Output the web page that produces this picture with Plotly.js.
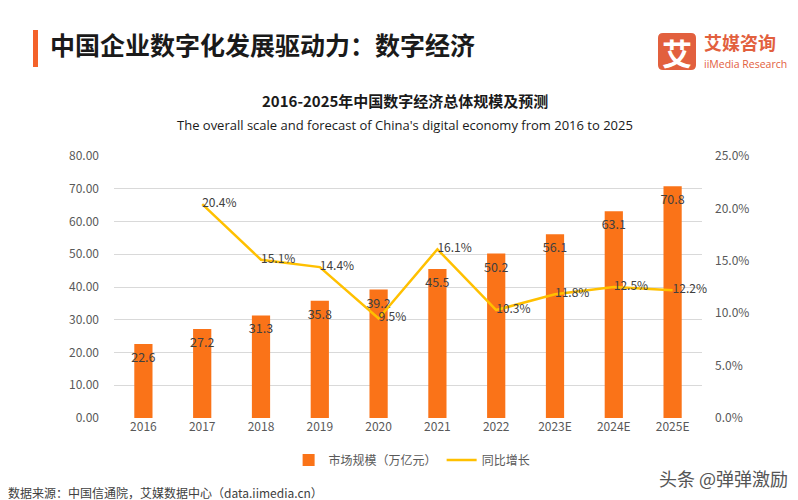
<!DOCTYPE html>
<html>
<head>
<meta charset="utf-8">
<script src="https://cdn.plot.ly/plotly-3.0.1.min.js"></script>
<style>html,body{margin:0;padding:0;background:#fff;}#chart{width:798px;height:500px;}</style>
</head>
<body>
<div id="chart"></div>
<script>
const years = ['2016','2017','2018','2019','2020','2021','2022','2023E','2024E','2025E'];
const marketScale = [22.6, 27.2, 31.3, 35.8, 39.2, 45.5, 50.2, 56.1, 63.1, 70.8];
const yoyGrowth = [null, 20.4, 15.1, 14.4, 9.5, 16.1, 10.3, 11.8, 12.5, 12.2];
const leftTicks = [0,10,20,30,40,50,60,70,80];
const rightTicks = [0,5,10,15,20,25];

const F = '"Noto Sans CJK SC", "Noto Sans", sans-serif';
const L = 114, R = 702, T = 156, B = 418;
const W = R - L, H = B - T;
const px = x => (x - L) / W;
const py = y => (B - y) / H;

const traces = [
  {
    type: 'bar', x: years, y: marketScale, name: '市场规模（万亿元）',
    marker: {color: '#FA7318'}, width: 0.31,
    text: marketScale.map(v => v.toFixed(1)), textposition: 'inside', insidetextanchor: 'end',
    textangle: 0, constraintext: 'none',
    textfont: {color: '#404040', size: 12.5, family: F}, cliponaxis: false,
    hoverinfo: 'skip'
  },
  {
    type: 'scatter', mode: 'lines+text', x: years, y: yoyGrowth, yaxis: 'y2', name: '同比增长',
    line: {color: '#FFC000', width: 2.5},
    text: yoyGrowth.map(v => v == null ? '' : v.toFixed(1) + '%'), textposition: 'middle right',
    textfont: {color: '#404040', size: 12, family: F}, cliponaxis: false,
    connectgaps: false, hoverinfo: 'skip'
  }
];

const layout = {
  width: 798, height: 500,
  margin: {l: L, r: 798 - R, t: T, b: 500 - B, pad: 0},
  paper_bgcolor: '#ffffff', plot_bgcolor: '#ffffff',
  font: {family: F, color: '#595959', size: 12},
  showlegend: true,
  legend: {orientation: 'h', x: 0.507, xanchor: 'center', y: py(460), yanchor: 'middle',
           font: {size: 12, color: '#595959', family: F}, traceorder: 'normal', itemwidth: 30},
  xaxis: {type: 'category', showgrid: false, zeroline: false, showline: false,
          tickfont: {size: 12, color: '#595959'}, ticks: '', fixedrange: true},
  yaxis: {range: [0, 80], tickvals: leftTicks, ticktext: leftTicks.map(v => v.toFixed(2)),
          showgrid: true, gridcolor: '#D9D9D9', gridwidth: 1, zeroline: false, showline: false,
          ticks: '', ticklabelstandoff: 14, tickfont: {size: 12, color: '#595959'}},
  yaxis2: {overlaying: 'y', side: 'right', range: [0, 25], tickvals: rightTicks,
           ticktext: rightTicks.map(v => v.toFixed(1) + '%'), showgrid: false, zeroline: false,
           showline: false, ticks: '', ticklabelstandoff: 12, tickfont: {size: 12, color: '#595959'}},
  shapes: [
    {type: 'rect', xref: 'paper', yref: 'paper', x0: px(33), x1: px(38), y0: py(30), y1: py(67),
     fillcolor: '#F4622A', line: {width: 0}},
    {type: 'path', xref: 'paper', yref: 'paper',
     path: (() => {
       const x0 = px(658), x1 = px(696), y0 = py(70), y1 = py(33);
       const rx = 5 / W, ry = 5 / H;
       return `M ${x0+rx},${y0} L ${x1-rx},${y0} Q ${x1},${y0} ${x1},${y0+ry} L ${x1},${y1-ry} Q ${x1},${y1} ${x1-rx},${y1} L ${x0+rx},${y1} Q ${x0},${y1} ${x0},${y1-ry} L ${x0},${y0+ry} Q ${x0},${y0} ${x0+rx},${y0} Z`;
     })(),
     fillcolor: '#E2603E', line: {width: 0}}
  ],
  annotations: [
    {xref: 'paper', yref: 'paper', x: px(48), y: py(44), xanchor: 'left', yanchor: 'middle', showarrow: false,
     text: '<b>中国企业数字化发展驱动力：数字经济</b>', font: {size: 25, color: '#1a1a1a', family: F}},
    {xref: 'paper', yref: 'paper', x: px(677), y: py(52), xanchor: 'center', yanchor: 'middle', showarrow: false,
     text: '<b>艾</b>', font: {size: 30, color: '#ffffff', family: F}},
    {xref: 'paper', yref: 'paper', x: px(702), y: py(42), xanchor: 'left', yanchor: 'middle', showarrow: false,
     text: '<b>艾媒咨询</b>', font: {size: 18, color: '#E2603E', family: F}},
    {xref: 'paper', yref: 'paper', x: px(702), y: py(64), xanchor: 'left', yanchor: 'middle', showarrow: false,
     text: 'iiMedia Research', font: {size: 10.5, color: '#E2603E', family: '"Open Sans", sans-serif'}},
    {xref: 'paper', yref: 'paper', x: px(405), y: py(100), xanchor: 'center', yanchor: 'middle', showarrow: false,
     text: '<b>2016-2025年中国数字经济总体规模及预测</b>', font: {size: 15, color: '#1a1a1a', family: F}},
    {xref: 'paper', yref: 'paper', x: px(405), y: py(125), xanchor: 'center', yanchor: 'middle', showarrow: false,
     text: "The overall scale and forecast of China's digital economy from 2016 to 2025", font: {size: 13, color: '#1a1a1a', family: '"Open Sans", sans-serif'}},
    {xref: 'paper', yref: 'paper', x: px(790), y: py(478), xanchor: 'right', yanchor: 'middle', showarrow: false,
     text: '头条 @弹弹激励', font: {size: 18, color: '#555555', family: F}},
    {xref: 'paper', yref: 'paper', x: px(6), y: py(492), xanchor: 'left', yanchor: 'middle', showarrow: false,
     text: '数据来源：中国信通院，艾媒数据中心（data.iimedia.cn）', font: {size: 12, color: '#404040', family: F}}
  ]
};

Plotly.newPlot('chart', traces, layout, {staticPlot: true, displayModeBar: false});
</script>
</body>
</html>
